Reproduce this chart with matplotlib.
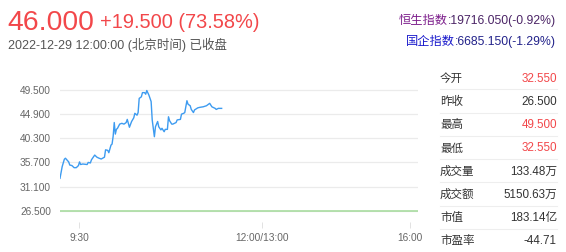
import matplotlib
matplotlib.use("Agg")
import matplotlib.pyplot as plt

plt.rcParams['font.family'] = ['Liberation Sans', 'Noto Sans CJK SC']

W, H = 566, 252

# intraday data: trading minutes after 9:30, price
minutes = [0, 2, 4, 5, 8, 9, 11, 13, 15, 17, 18, 19, 21, 25, 26, 28, 29, 32, 34, 36,
           38, 41, 42, 44, 45, 47, 48, 49, 50, 51, 52, 53, 55, 57, 59, 61, 62, 64, 66, 68,
           69, 71, 72, 73, 75, 76, 78, 79, 80, 82, 84, 85, 87, 88, 90, 91, 93, 94, 96, 97,
           99, 100, 101, 103, 104, 107, 108, 111, 112, 114, 115, 117, 118, 120, 121, 123, 124, 127, 129, 132,
           135, 138, 140, 143, 144, 146, 149]
prices = [32.67, 34.9, 36.3, 36.5, 35.8, 35.2, 35.1, 34.7, 34.7, 35.1, 35.8, 35.3, 35.4, 35.3, 35.7, 35.6, 36.2, 37.1, 36.7, 36.5,
          36.35, 36.7, 38.1, 38.0, 37.55, 39.0, 39.2, 40.7, 43.3, 41.1, 42.0, 42.2, 43.0, 43.15, 43.0, 43.3, 43.9, 42.4, 43.5, 44.2,
          45.06, 44.7, 45.2, 47.9, 48.2, 49.0, 49.0, 48.7, 49.4, 48.5, 47.3, 43.8, 40.6, 42.5, 43.5, 42.5, 41.9, 42.2, 41.55, 42.0,
          42.0, 44.4, 43.65, 43.0, 43.0, 43.3, 43.8, 43.9, 44.9, 45.06, 45.2, 47.46, 46.8, 46.5, 45.8, 45.2, 45.7, 46.1, 46.2, 46.3,
          46.5, 46.96, 46.3, 46.0, 45.8, 46.0, 46.0]

prev_close = 26.5
y_ticks = [26.5, 31.1, 35.7, 40.3, 44.9, 49.5]
x_tick_pos = [17.5, 186.4, 322.4]
x_tick_labels = ["9:30", "12:00/13:00", "16:00"]

last_price = "46.000"
change = "+19.500 (73.58%)"
timestamp = "2022-12-29 12:00:00 (北京时间) 已收盘"

indices = [("恒生指数", ":19716.050(-0.92%)", "#7d1f8c", "#4b2466"),
           ("国企指数", ":6685.150(-1.29%)", "#1a1acc", "#22228a")]

stat_labels = ["今开", "昨收", "最高", "最低", "成交量", "成交额", "市值", "市盈率"]
stat_values = ["32.550", "26.500", "49.500", "32.550", "133.48万", "5150.63万", "183.14亿", "-44.71"]
stat_up = [True, False, True, True, False, False, False, False]

RED = "#f2474a"
DARK = "#333333"


def fx(x):
    return x / W


def fy(y):
    return 1 - y / H


fig = plt.figure(figsize=(W / 100, H / 100), dpi=100)

# price chart
ax = fig.add_axes([fx(60), fy(222), (418 - 60) / W, (222 - 80) / H])
scale = (210.7 - 90) / (49.5 - 26.5)
ax.set_ylim(26.5 - (222 - 210.7) / scale, 49.5 + (90 - 80) / scale)
ax.set_xlim(0, 330)
for s in ax.spines.values():
    s.set_visible(False)
ax.set_yticks(y_ticks)
ax.set_yticklabels([f"{v:.3f}" for v in y_ticks])
ax.grid(axis='y', color='#ebebeb', lw=0.9)
ax.tick_params(axis='y', length=0, pad=6.5, labelsize=7.3, labelcolor='#666666')
ax.set_xticks(x_tick_pos)
ax.set_xticklabels(x_tick_labels)
ax.tick_params(axis='x', length=4.5, width=0.6, color='#dddddd', pad=3.5,
               labelsize=7.3, labelcolor='#666666')
ax.axhline(prev_close, color='#a8dca0', lw=1.2, zorder=2)
ax.plot(minutes, prices, color='#3d9bf0', lw=1.0, zorder=3)

# header
fig.text(fx(7), fy(30), last_price, fontsize=20.4, color=RED, va='baseline')
fig.text(fx(100), fy(27.7), change, fontsize=14.4, color=RED, va='baseline')
fig.text(fx(8), fy(49.3), timestamp, fontsize=9, color='#555555', va='baseline')

# index quotes
renderer = fig.canvas.get_renderer()
for i, (name, val, c1, c2) in enumerate(indices):
    yb = 24.3 + i * 20.7
    t = fig.text(fx(556), fy(yb), val, fontsize=8.8, color=c2, ha='right', va='baseline')
    bb = t.get_window_extent(renderer)
    fig.text(bb.x0 / W, fy(yb), name, fontsize=8.8, color=c1, ha='right', va='baseline')

# stats table
for i, (lab, val, up) in enumerate(zip(stat_labels, stat_values, stat_up)):
    yb = 81.7 + i * 23.25
    fig.text(fx(440), fy(yb), lab, fontsize=8.3, color=DARK, va='baseline')
    fig.text(fx(557), fy(yb), val, fontsize=8.4, color=RED if up else DARK,
             ha='right', va='baseline')
    if i < len(stat_labels) - 1:
        ysep = 89.3 + i * 23.25
        fig.add_artist(plt.Line2D([fx(440), fx(557)], [fy(ysep), fy(ysep)],
                                  color='#eeeeee', lw=0.8))

fig.savefig("out.png", dpi=100)
